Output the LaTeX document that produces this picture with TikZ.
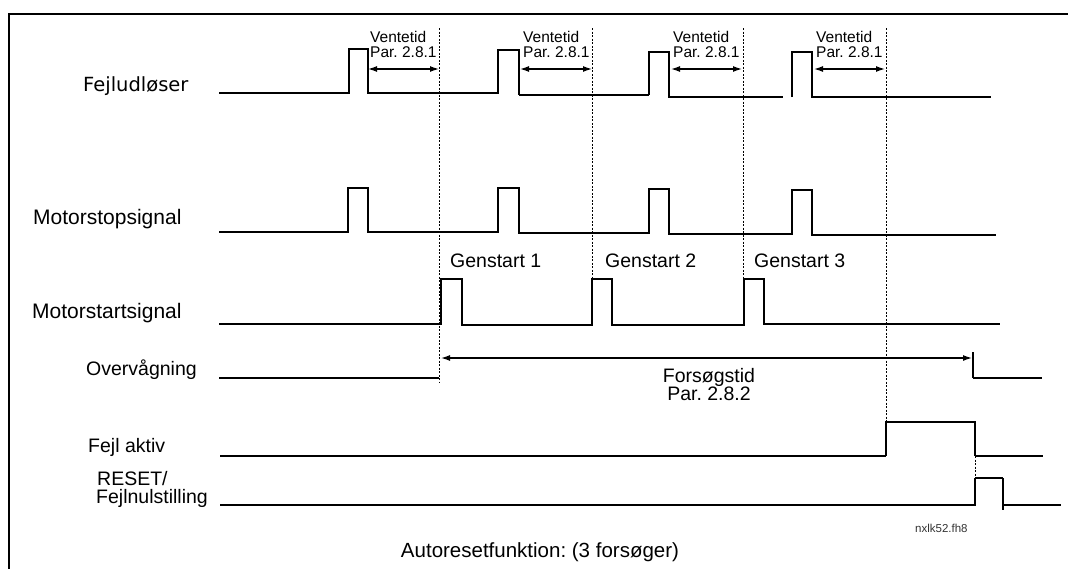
\documentclass[tikz,border=0pt]{standalone}
\usepackage{fontspec}
\setmainfont{Liberation Sans}
\newfontfamily\verd{DejaVu Sans}
\usetikzlibrary{arrows.meta}
\frenchspacing
\begin{document}
\begin{tikzpicture}[x=1pt,y=-1pt,
 sig/.style={line width=1.3pt, line join=miter},
 thk/.style={line width=2.2pt},
 vdot/.style={line width=1pt, dash pattern=on 2pt off 1.5pt},
 dim/.style={line width=1.3pt, {Latex[length=9pt,width=6pt]}-{Latex[length=9pt,width=6pt]}},
 lbl/.style={font=\fontsize{19.5}{21}\selectfont, inner sep=0pt, anchor=base west},
 big/.style={font=\fontsize{21}{22}\selectfont, inner sep=0pt, anchor=base west},
 small/.style={font=\fontsize{15.5}{15.5}\selectfont, inner sep=0pt, anchor=base west},
]
\useasboundingbox (0,0) rectangle (1068,568);
% frame
\draw[line width=2pt] (9,575) -- (9,14) -- (1075,14);

% labels
\node[lbl, font=\verd\fontsize{19.5}{21}\selectfont] (l1) at (83,91) {Fejludløser};
\node[big] (l2) at (33,224) {Motorstopsignal};
\node[big] (l3) at (32,318) {Motorstartsignal};
\node[lbl] (l4) at (86,375) {Overvågning};
\node[lbl] (l5) at (88,452) {Fejl aktiv};
\node[lbl] (l6) at (97,485) {RESET/};
\node[lbl] (l7) at (96,503) {Fejlnulstilling};

% Fejludloeser
\draw[sig] (219,93)--(349,93)--(349,49)--(368,49)--(368,93)--(498,93)--(498,50)--(519,50)--(519,95);
\draw[thk] (519,95)--(649,95);
\draw[sig] (649,95)--(649,52)--(669,52)--(669,97)--(783,97);
\draw[sig] (792,97)--(792,52)--(812,52)--(812,97)--(991,97);

% Motorstopsignal
\draw[sig] (219,232)--(348,232)--(348,188)--(368,188)--(368,232)--(498,232)--(498,188)--(519,188)--(519,233)--(649,233)--(649,189)--(669,189)--(669,234)--(792,234)--(792,190)--(812,190)--(812,235)--(996,235);

% Motorstartsignal
\draw[sig] (219,324)--(441,324)--(441,279)--(462,279)--(462,325)--(592,325)--(592,279)--(612,279)--(612,325)--(744,325)--(744,279)--(764,279)--(764,324)--(1000,324);

% Overvaagning
\draw[thk] (219,378)--(439,378);
\draw[sig] (973,352)--(973,378);
\draw[thk] (973,378)--(1042,378);
\coordinate (fa) at (441,358);
\coordinate (fb) at (972,358);
\draw[dim] (fa) -- (fb);
\node[lbl, anchor=base] (f1) at (709,382) {Forsøgstid};
\node[lbl, anchor=base] (f2) at (709,400) {Par. 2.8.2};

% Fejl aktiv
\draw[thk] (220,456)--(886,456);
\draw[sig] (886,456)--(886,422)--(975,422)--(975,456);
\draw[thk] (975,456)--(1043,456);

% RESET
\draw[sig] (220,505)--(975,505)--(975,478);
\draw[thk] (975,478)--(1003,478);
\draw[sig] (1003,478)--(1003,510);
\draw[sig] (1003,505)--(1061,505);

% dotted verticals
\draw[vdot] (439,28)--(439,382);
\draw[vdot] (592,28)--(592,325);
\draw[vdot] (743,28)--(743,279);
\draw[vdot] (886,28)--(886,422);
\draw[vdot] (975,456)--(975,478);

% Ventetid
\foreach \xa/\xt/\xb [count=\i] in {368/370/439, 520/523/592, 671/673/742, 814/816/885}{
  \node[small] (v\i) at (\xt,42) {Ventetid};
  \node[small] (p\i) at (\xt,57) {Par. 2.8.1};
  \coordinate (va\i) at (\xa,69);
  \coordinate (vb\i) at (\xb,69);
  \draw[dim] (va\i) -- (vb\i);
}

% Genstart
\node[lbl] (g1) at (450,267) {Genstart 1};
\node[lbl] (g2) at (605,267) {Genstart 2};
\node[lbl] (g3) at (754,267) {Genstart 3};

\node[font=\fontsize{11.5}{12}\selectfont, text=black!80, inner sep=0pt, anchor=base west] (nx) at (915,532) {nxlk52.fh8};
\node[lbl, anchor=base, font=\fontsize{20.5}{22}\selectfont] (t) at (540,557) {Autoresetfunktion: (3 forsøger)};
\end{tikzpicture}
\end{document}
